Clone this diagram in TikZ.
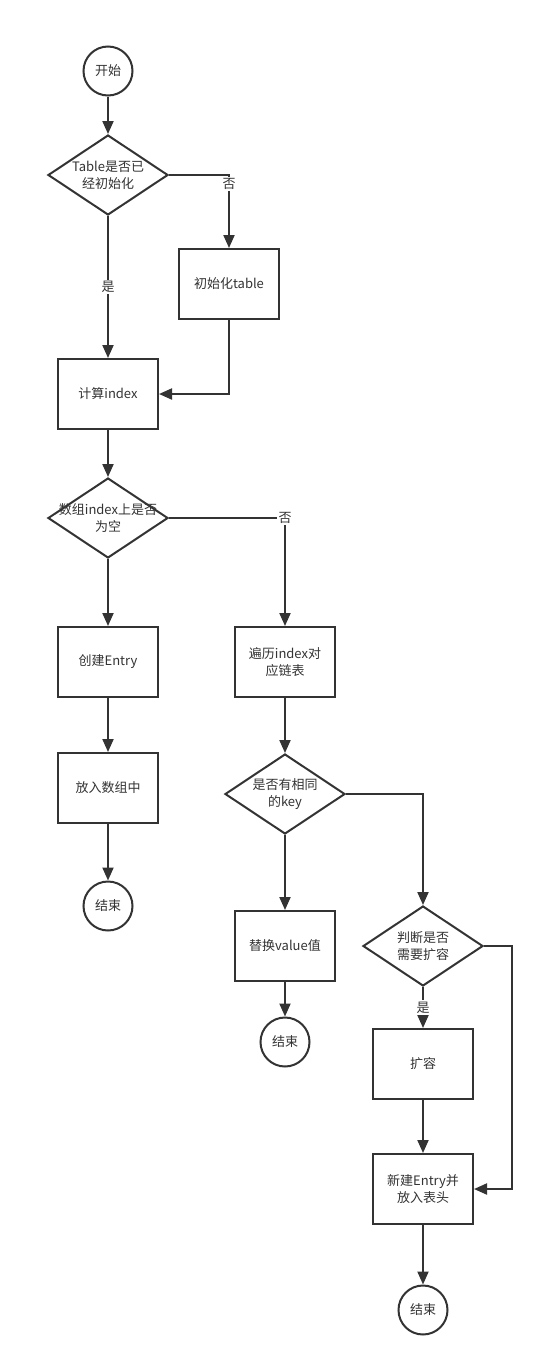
\documentclass[tikz,border=0pt]{standalone}
\usepackage{fontspec}
\setmainfont{Noto Sans CJK SC}
\usetikzlibrary{shapes.geometric,arrows.meta}
\definecolor{ln}{HTML}{333333}
\begin{document}
\begin{tikzpicture}[x=1pt,y=-1pt,
 every node/.style={font=\fontsize{13pt}{17pt}\selectfont, text=ln},
 proc/.style={draw=ln,line width=2pt,minimum width=100pt,minimum height=70pt,inner sep=0pt,align=center},
 term/.style={draw=ln,line width=2pt,circle,minimum size=49pt,inner sep=0pt},
 dec/.style={draw=ln,line width=2pt,diamond,minimum width=120pt,minimum height=80pt,inner sep=0pt},
 dtext/.style={align=center,inner sep=0pt},
 conn/.style={draw=ln,line width=2pt,-{Triangle[width=11pt,length=13pt]}},
 lab/.style={fill=white,inner sep=1.5pt}
]
\useasboundingbox[fill=white] (0,0) rectangle (544,1368);

\node[term] (s1) at (108,71) {开始};
\node[dec] (d1) at (108,175) {};
\node[dtext] (t1) at (d1.center) {Table是否已\\经初始化};
\node[proc] (init) at (229,284) {初始化table};
\node[proc] (calc) at (108,394) {计算index};
\node[dec] (d2) at (108,518) {};
\node[dtext] (t2) at (d2.center) {数组index上是否\\为空};
\node[proc] (create) at (108,662) {创建Entry};
\node[proc] (put) at (108,788) {放入数组中};
\node[term] (e1) at (108,906) {结束};
\node[proc] (trav) at (285,662) {遍历index对\\应链表};
\node[dec] (d3) at (285,794) {};
\node[dtext] (t3) at (d3.center) {是否有相同\\的key};
\node[proc] (repl) at (285,946) {替换value值};
\node[term] (e2) at (285,1042) {结束};
\node[dec] (d4) at (423,946) {};
\node[dtext] (t4) at (d4.center) {判断是否\\需要扩容};
\node[proc] (expand) at (423,1064) {扩容};
\node[proc] (new) at (423,1189) {新建Entry并\\放入表头};
\node[term] (e3) at (423,1310) {结束};
\coordinate (c1) at (512,1189);

\draw[conn] (s1) -- (d1);
\draw[conn] (d1.east) -| node[lab,pos=0.56] (l1) {否} (init.north);
\draw[conn] (d1.south) -- node[lab,pos=0.5] (l2) {是} (calc.north);
\draw[conn] (init.south) |- (calc.east);
\draw[conn] (calc) -- (d2);
\draw[conn] (d2.east) -| node[lab,pos=0.5] (l3) {否} (trav.north);
\draw[conn] (d2.south) -- (create.north);
\draw[conn] (create) -- (put);
\draw[conn] (put) -- (e1);
\draw[conn] (trav) -- (d3);
\draw[conn] (d3.south) -- (repl.north);
\draw[conn] (repl) -- (e2);
\draw[conn] (d3.east) -| (d4.north);
\draw[conn] (d4.south) -- node[lab,pos=0.5] (l4) {是} (expand.north);
\draw[conn] (expand) -- (new);
\draw[conn] (d4.east) -| (c1) -- (new.east);
\draw[conn] (new) -- (e3);
\end{tikzpicture}
\end{document}
